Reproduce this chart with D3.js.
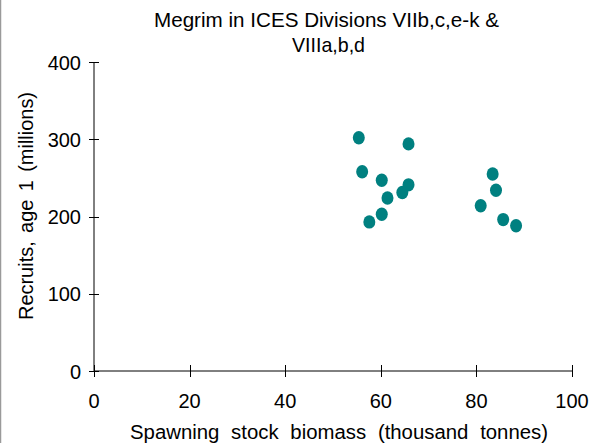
<!DOCTYPE html>
<html>
<head>
<meta charset="utf-8">
<script src="https://cdn.jsdelivr.net/npm/d3@7"></script>
<style>
  html, body { margin: 0; padding: 0; background: #fff; }
  svg { display: block; }
  text { font-family: "Liberation Sans", Arial, sans-serif; fill: #000; }
</style>
</head>
<body>
<svg id="chart" width="601" height="443"></svg>
<script>
// Spawning stock biomass (thousand tonnes) and recruits at age 1 (millions)
const ssb      = [55.4, 65.8, 56.1, 60.2, 65.8, 64.5, 61.4, 60.2, 57.6, 83.4, 84.1, 80.9, 85.6, 88.3];
const recruits = [302, 294, 258, 247, 241, 231, 224, 203, 193, 255, 234, 214, 196, 188];
const xTicks = [0, 20, 40, 60, 80, 100];
const yTicks = [0, 100, 200, 300, 400];
const titleLines = ["Megrim in ICES Divisions VIIb,c,e-k &", "VIIIa,b,d"];
const xLabel = "Spawning stock biomass (thousand tonnes)";
const yLabel = "Recruits, age 1 (millions)";

const svg = d3.select("#chart");

// frame line along the left edge
svg.append("line")
  .attr("x1", 0.5).attr("x2", 0.5).attr("y1", 0).attr("y2", 443)
  .attr("stroke", "#9a9a9a").attr("stroke-width", 1.5);

const x = d3.scaleLinear().domain([0, 100]).range([94, 572]);
const y = d3.scaleLinear().domain([0, 400]).range([371, 62]);

// axis lines
svg.append("line")
  .attr("x1", x(0)).attr("x2", x(100)).attr("y1", y(0)).attr("y2", y(0))
  .attr("stroke", "#000").attr("stroke-width", 1);
svg.append("line")
  .attr("x1", x(0)).attr("x2", x(0)).attr("y1", y(0)).attr("y2", y(400))
  .attr("stroke", "#000").attr("stroke-width", 1);

// x ticks crossing the axis
const xg = svg.append("g");
xg.selectAll("line").data(xTicks).join("line")
  .attr("x1", d => Math.round(x(d)) + 0.5).attr("x2", d => Math.round(x(d)) + 0.5)
  .attr("y1", y(0) - 6).attr("y2", y(0) + 6)
  .attr("stroke", "#000");
xg.selectAll("text").data(xTicks).join("text")
  .attr("x", d => x(d)).attr("y", 408)
  .attr("text-anchor", "middle")
  .style("font-size", "20px")
  .text(d => d);

// y ticks crossing the axis
const yg = svg.append("g");
yg.selectAll("line").data(yTicks).join("line")
  .attr("x1", x(0) - 5).attr("x2", x(0) + 5)
  .attr("y1", d => Math.round(y(d)) + 0.5).attr("y2", d => Math.round(y(d)) + 0.5)
  .attr("stroke", "#000");
yg.selectAll("text").data(yTicks).join("text")
  .attr("x", 81).attr("y", d => y(d) + 7.5)
  .attr("text-anchor", "end")
  .style("font-size", "20px")
  .text(d => d);

// title, two centred lines
const titleWidths = [345, 73];
svg.append("g").selectAll("text").data(titleLines).join("text")
  .attr("x", (d, i) => i === 0 ? 326.5 : 328.5)
  .attr("y", (d, i) => 26.5 + i * 25)
  .attr("text-anchor", "middle")
  .attr("textLength", (d, i) => titleWidths[i])
  .attr("lengthAdjust", "spacingAndGlyphs")
  .style("font-size", "21px")
  .text(d => d);

// axis titles
svg.append("text")
  .attr("x", 339).attr("y", 438.5)
  .attr("text-anchor", "middle")
  .attr("textLength", 418)
  .attr("lengthAdjust", "spacingAndGlyphs")
  .style("font-size", "20px")
  .style("word-spacing", "6px")
  .text(xLabel);
svg.append("text")
  .attr("transform", "translate(33,206) rotate(-90)")
  .attr("text-anchor", "middle")
  .attr("textLength", 228)
  .attr("lengthAdjust", "spacingAndGlyphs")
  .style("font-size", "21px")
  .style("word-spacing", "3px")
  .text(yLabel);

// observations
svg.append("g").selectAll("ellipse").data(ssb.map((s, i) => [s, recruits[i]])).join("ellipse")
  .attr("cx", d => x(d[0])).attr("cy", d => y(d[1]))
  .attr("rx", 6).attr("ry", 6.7)
  .attr("fill", "#008080");
</script>
</body>
</html>
